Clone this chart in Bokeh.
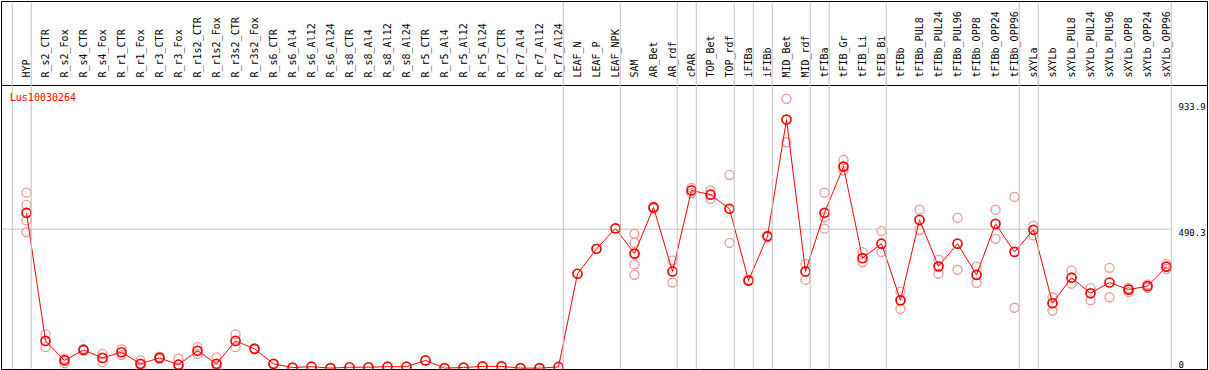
from math import pi
from bokeh.plotting import figure
from bokeh.models import Range1d, LinearAxis, FixedTicker, Span, Label
from bokeh.embed import file_html
from bokeh.resources import INLINE

gene = "Lus10030264"

categories = [
    "HYP", "R_s2_CTR", "R_s2_Fox", "R_s4_CTR", "R_s4_Fox", "R_r1_CTR", "R_r1_Fox",
    "R_r3_CTR", "R_r3_Fox", "R_r1s2_CTR", "R_r1s2_Fox", "R_r3s2_CTR", "R_r3s2_Fox",
    "R_s6_CTR", "R_s6_Al4", "R_s6_Al12", "R_s6_Al24", "R_s8_CTR", "R_s8_Al4",
    "R_s8_Al12", "R_s8_Al24", "R_r5_CTR", "R_r5_Al4", "R_r5_Al12", "R_r5_Al24",
    "R_r7_CTR", "R_r7_Al4", "R_r7_Al12", "R_r7_Al24", "LEAF_N", "LEAF_P", "LEAF_NPK",
    "SAM", "AR_Bet", "AR_rdf", "cPAR", "TOP_Bet", "TOP_rdf", "iFIBa", "iFIBb",
    "MID_Bet", "MID_rdf", "tFIBa", "tFIB_Gr", "tFIB_Li", "tFIB_Bi", "tFIBb",
    "tFIBb_PUL8", "tFIBb_PUL24", "tFIBb_PUL96", "tFIBb_OPP8", "tFIBb_OPP24",
    "tFIBb_OPP96", "sXYLa", "sXYLb", "sXYLb_PUL8", "sXYLb_PUL24", "sXYLb_PUL96",
    "sXYLb_OPP8", "sXYLb_OPP24", "sXYLb_OPP96",
]

means = [
    548, 96, 27, 64, 36, 56, 15, 36, 12, 61, 15, 96, 68,
    15, 2, 5, 0, 3, 3, 5, 5, 27, 0, 2, 6, 6, 0, 0, 4,
    333, 421, 493, 404, 567, 341, 627, 612, 562, 309, 465,
    877, 341, 548, 711, 388, 439, 239,
    523, 359, 439, 329, 509, 410,
    488, 229, 319, 264, 302, 277, 289, 358,
]

replicates = [
    [619, 576, 521, 480], [119, 74], [33, 17], [68, 62], [50, 21], [66, 46], [27, 2],
    [40, 33], [33, 0], [74, 50], [38, 0], [119, 74], [70, 66],
    [15], [], [], [], [], [], [], [], [], [], [], [], [], [], [], [],
    [], [], [], [474, 442, 366, 329], [570, 563], [380, 302], [636, 617], [627, 597],
    [682, 442], [311, 307], [467, 462],
    [950, 797], [368, 311], [619, 532, 492], [735, 697], [409, 374], [483, 409], [270, 209],
    [559, 488], [383, 333], [530, 347], [358, 301], [559, 456], [604, 213],
    [503, 468], [250, 203], [344, 298], [282, 239], [354, 250], [283, 268], [295, 283], [368, 350],
]

y_ticks = [0, 490.3, 933.9]
y_tick_labels = ["0", "490.3", "933.9"]

# index of the last category of each group (a grey separator follows it)
group_last = [-1, 0, 28, 31, 34, 35, 37, 38, 39, 41, 42, 45, 52, 53, 60]

x_idx = list(range(len(categories)))
rep_x, rep_y = [], []
for i, reps in enumerate(replicates):
    for r in reps:
        rep_x.append(i)
        rep_y.append(r)

FONT = "DejaVu Sans Mono"
GREY = "#c4c4c4"

p = figure(width=1209, height=370,
           x_range=Range1d(-1.316, 62.158), y_range=Range1d(-4.94, 1293.6),
           output_backend="svg", toolbar_location=None,
           x_axis_location=None, y_axis_location=None,
           min_border_left=1, min_border_right=2, min_border_top=1, min_border_bottom=1)
for g in p.grid:
    g.visible = False
p.outline_line_color = "black"
p.outline_line_width = 1
p.background_fill_color = "white"
p.border_fill_color = "white"

for b in group_last:
    p.add_layout(Span(location=b + 0.25, dimension="height", line_color=GREY, line_width=1))

p.segment(x0=[p.x_range.start], x1=[group_last[-1] + 0.25], y0=[y_ticks[1]], y1=[y_ticks[1]],
          line_color=GREY, line_width=1)

# category labels on a fixed-location axis (its line is the divider above the plot)
xaxis = LinearAxis(fixed_location=997.2,
                   ticker=FixedTicker(ticks=x_idx, minor_ticks=[]),
                   major_label_overrides={i: c for i, c in enumerate(categories)},
                   major_label_orientation=pi / 2,
                   major_tick_line_color=None, minor_tick_line_color=None,
                   axis_line_color="black", axis_line_width=1,
                   major_label_standoff=2,
                   major_label_text_font=FONT, major_label_text_font_size="10px",
                   major_label_text_color="black")
p.add_layout(xaxis, "above")

# value labels at the right, hanging below (or sitting above, for 0) their values
for t, s in zip(y_ticks, y_tick_labels):
    p.add_layout(Label(x=60.63, y=t, text=s, text_color="black", text_font=FONT,
                       text_font_size="9px", text_align="left",
                       text_baseline="bottom" if t == 0 else "top"))

p.add_layout(Label(x=-0.879, y=974.2, text=gene, text_color="red", text_font=FONT,
                   text_font_size="10px", text_baseline="top", text_align="left"))

p.scatter(rep_x, rep_y, marker="circle", size=9, fill_color=None,
          line_color="#f19999", line_width=1.3)
p.line(x_idx, means, line_color="red", line_width=1)
p.scatter(x_idx, means, marker="circle", size=9, fill_color=None,
          line_color="red", line_width=1.7)

open("out.html", "w").write(file_html(p, INLINE))
